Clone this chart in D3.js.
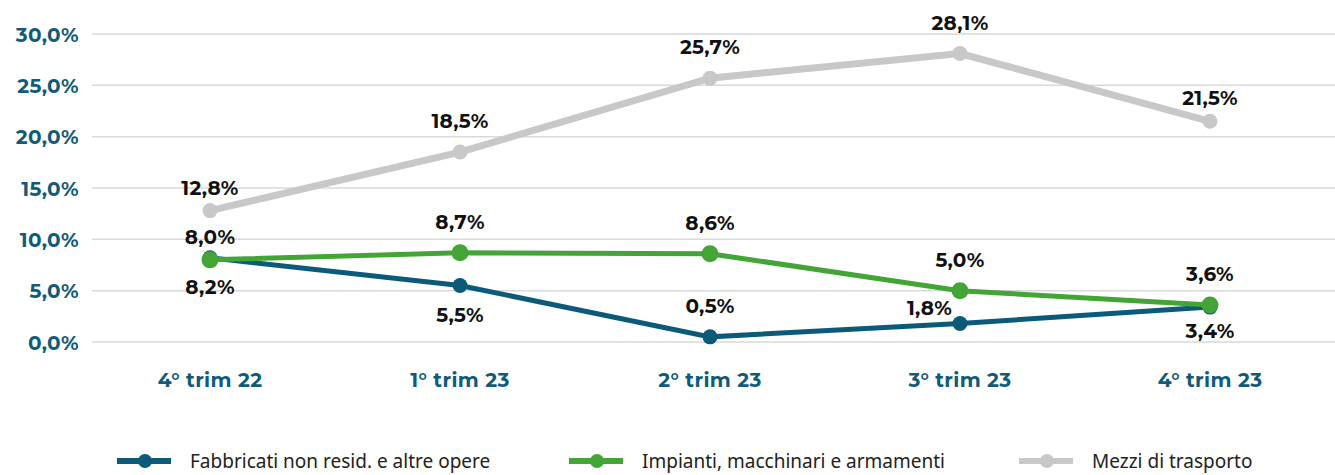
<!DOCTYPE html>
<html>
<head>
<meta charset=utf-8>
<style>
body {margin: 0; background: #fff;}
svg {display: block;}
.grid line {stroke: #d9d9d9; stroke-width: 1.5;}
.axis text {font-family: 'Montserrat', 'Noto Sans', sans-serif; font-weight: 700; font-size: 20px; letter-spacing: 0.4px; fill: #0f5b78;}
.lbl {font-family: 'Montserrat', 'Noto Sans', sans-serif; font-weight: 700; font-size: 20px; letter-spacing: 0.3px; fill: #111;}
.legend text {font-family: 'Noto Sans', 'Open Sans', sans-serif; font-size: 19px; fill: #222;}
</style>
</head>
<body>
<svg id=chart width=1335 height=475></svg>

<script src='https://cdn.jsdelivr.net/npm/d3@7/dist/d3.min.js'></script>
<script>
// data
var categories = ['4° trim 22', '1° trim 23', '2° trim 23', '3° trim 23', '4° trim 23'];
var fabbricati = [8.2, 5.5, 0.5, 1.8, 3.4];
var impianti = [8.0, 8.7, 8.6, 5.0, 3.6];
var mezzi = [12.8, 18.5, 25.7, 28.1, 21.5];
var yTicks = [0, 5, 10, 15, 20, 25, 30];
var seriesNames = ['Fabbricati non resid. e altre opere', 'Impianti, macchinari e armamenti', 'Mezzi di trasporto'];
// where each value label sits relative to its point
var fabbricatiLbl = ['below', 'below', 'above', 'left', 'belownear'];
var impiantiLbl = ['near', 'above', 'above', 'above', 'above'];
var mezziLbl = ['near', 'above', 'above', 'above', 'near'];

var series = [
  {name: seriesNames[2], values: mezzi, lbl: mezziLbl, color: '#c8c8c8', w: 7},
  {name: seriesNames[0], values: fabbricati, lbl: fabbricatiLbl, color: '#0b5a7a', w: 5},
  {name: seriesNames[1], values: impianti, lbl: impiantiLbl, color: '#43a536', w: 5}
];

var svg = d3.select('#chart');
var fmt = function(v){ return d3.format('.1f')(v).replace('.', ',') + '%'; };

//scales
var x = d3.scaleBand().domain(categories).range([85, 1335]);
var y = d3.scaleLinear().domain([0, 30]).range([342, 34]);
var cx = function(i){ return x(categories[i]) + x.bandwidth()/2; };

//gridlines
svg.append('g').attr('class', 'grid')
  .selectAll('line').data(yTicks).enter().append('line')
    .attr('x1', 92).attr('x2', 1335)
    .attr('y1', function(d){ return y(d); })
    .attr('y2', function(d){ return y(d); });

//y axis labels
svg.append('g').attr('class', 'axis')
    .attr('transform', 'translate(79,0)')
    .call(d3.axisLeft(y).tickValues(yTicks).tickSize(0).tickPadding(0).tickFormat(fmt))
    .call(function(g){ g.select('.domain').remove(); })
  .selectAll('text').attr('dy', '0.35em');

//x axis labels
svg.append('g').attr('class', 'axis')
    .attr('transform', 'translate(0,380)')
    .call(d3.axisBottom(x).tickSize(0).tickPadding(0))
    .call(function(g){ g.select('.domain').remove(); })
  .selectAll('text').attr('dy', '0.35em');

//lines
var line = d3.line()
    .x(function(d, i){ return cx(i); })
    .y(function(d){ return y(d); });

series.forEach(function(s){
  svg.append('path')
      .datum(s.values)
      .attr('fill', 'none')
      .attr('stroke', s.color)
      .attr('stroke-width', s.w)
      .attr('d', line);
});
series.forEach(function(s, k){
  svg.append('g').selectAll('circle').data(s.values).enter().append('circle')
      .attr('cx', function(d, i){ return cx(i); })
      .attr('cy', function(d){ return y(d); })
      .attr('r', k === 2 ? 8.5 : 7.5)
      .attr('fill', s.color);
});

//value labels
var offs = {above: -31, near: -23, below: 29, belownear: 24, left: -16};
series.forEach(function(s){
  svg.append('g').selectAll('text').data(s.values).enter().append('text')
      .attr('class', 'lbl')
      .attr('text-anchor', function(d, i){ return s.lbl[i] === 'left' ? 'end' : 'middle'; })
      .attr('x', function(d, i){ return s.lbl[i] === 'left' ? cx(i) - 8 : cx(i); })
      .attr('y', function(d, i){ return y(d) + offs[s.lbl[i]]; })
      .attr('dy', '0.35em')
      .text(fmt);
});

//legend
var legendX = [145, 597, 1047];
var legendSeries = [series[1], series[2], series[0]];
var lg = svg.append('g').attr('class', 'legend');
legendSeries.forEach(function(s, i){
  var g = lg.append('g').attr('transform', 'translate(' + legendX[i] + ',461)');
  g.append('line').attr('x1', -28).attr('x2', 26)
      .attr('stroke', s.color).attr('stroke-width', 6);
  g.append('circle').attr('r', 7).attr('fill', s.color);
  g.append('text').attr('x', 45).attr('dy', '0.35em').text(s.name);
});
</script>
</body>
</html>
